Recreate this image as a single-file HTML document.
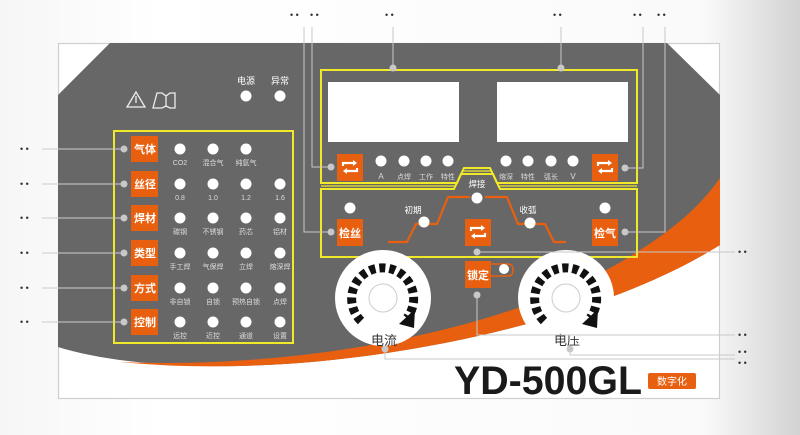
<!DOCTYPE html>
<html><head><meta charset="utf-8"><style>
html,body{margin:0;padding:0;width:800px;height:435px;overflow:hidden;background:#fff}
svg{display:block}
text{font-family:"Liberation Sans","Noto Sans CJK SC",sans-serif}
</style></head><body>
<svg width="800" height="435" viewBox="0 0 800 435" xmlns="http://www.w3.org/2000/svg">
<defs>
<linearGradient id="bg" x1="0" y1="0" x2="1" y2="0">
<stop offset="0" stop-color="#f6f6f6"/><stop offset="0.2" stop-color="#fff"/><stop offset="0.88" stop-color="#fafafa"/><stop offset="1" stop-color="#d2d2d2"/>
</linearGradient>
<g id="cyc"><path d="M-7,-1 v-3 h11" fill="none" stroke="#fff" stroke-width="2.2"/><path d="M3,-7 l4,3 l-4,3z" fill="#fff"/><path d="M7,1 v3 h-11" fill="none" stroke="#fff" stroke-width="2.2"/><path d="M-3,7 l-4,-3 l4,-3z" fill="#fff"/></g>
</defs>
<rect width="800" height="435" fill="url(#bg)"/>
<!-- panel -->
<rect x="58.5" y="43.5" width="661" height="355" fill="#fff" stroke="#cfcfcf" stroke-width="1.2"/>
<path d="M110,43 L667,43 L720,95 L720,245 C600,320 400,362 240,366 C160,367 100,360 58,347 L58,95 Z" fill="#676767"/>
<path d="M720,178 L720,245 C600,320 400,362 240,366 C200,367 160,366 120,362 C300,370 520,330 640,250 C680,225 705,200 720,178 Z" fill="#e8600f"/>
<!-- warning icons -->
<path d="M136,92 L127,107 L145,107 Z M136,96 L136,103" fill="none" stroke="#eee" stroke-width="1.3"/>
<path d="M157,93 h5 l4,3 l4,-3 h5 v15 h-5 l-4,-2 l-4,2 h-9z M166,96 v10" fill="none" stroke="#eee" stroke-width="1.3"/>
<g fill="#fff" font-size="9" text-anchor="middle"><text x="246" y="84">电源</text><text x="280" y="84">异常</text></g>
<circle cx="246" cy="96" r="5.5" fill="#fff"/><circle cx="280" cy="96" r="5.5" fill="#fff"/>
<!-- left box -->
<rect x="114" y="131" width="179" height="212" fill="none" stroke="#efe92a" stroke-width="2"/>
<g font-size="11" fill="#fff" text-anchor="middle" font-weight="bold">
<rect x="131" y="136" width="27" height="26" fill="#e8600f"/><text x="145" y="153">气体</text>
<rect x="131" y="171" width="27" height="26" fill="#e8600f"/><text x="145" y="188">丝径</text>
<rect x="131" y="205" width="27" height="26" fill="#e8600f"/><text x="145" y="222">焊材</text>
<rect x="131" y="240" width="27" height="26" fill="#e8600f"/><text x="145" y="257">类型</text>
<rect x="131" y="275" width="27" height="26" fill="#e8600f"/><text x="145" y="292">方式</text>
<rect x="131" y="309" width="27" height="26" fill="#e8600f"/><text x="145" y="326">控制</text>
</g>
<g fill="#fff">
<circle cx="180" cy="149" r="5.5"/><circle cx="213" cy="149" r="5.5"/><circle cx="246" cy="149" r="5.5"/>
<circle cx="180" cy="184" r="5.5"/><circle cx="213" cy="184" r="5.5"/><circle cx="246" cy="184" r="5.5"/><circle cx="280" cy="184" r="5.5"/>
<circle cx="180" cy="218" r="5.5"/><circle cx="213" cy="218" r="5.5"/><circle cx="246" cy="218" r="5.5"/><circle cx="280" cy="218" r="5.5"/>
<circle cx="180" cy="253" r="5.5"/><circle cx="213" cy="253" r="5.5"/><circle cx="246" cy="253" r="5.5"/><circle cx="280" cy="253" r="5.5"/>
<circle cx="180" cy="288" r="5.5"/><circle cx="213" cy="288" r="5.5"/><circle cx="246" cy="288" r="5.5"/><circle cx="280" cy="288" r="5.5"/>
<circle cx="180" cy="322" r="5.5"/><circle cx="213" cy="322" r="5.5"/><circle cx="246" cy="322" r="5.5"/><circle cx="280" cy="322" r="5.5"/>
</g>
<g fill="#ddd" font-size="7" text-anchor="middle">
<text x="180" y="165">CO2</text><text x="213" y="165">混合气</text><text x="246" y="165">纯氩气</text>
<text x="180" y="200">0.8</text><text x="213" y="200">1.0</text><text x="246" y="200">1.2</text><text x="280" y="200">1.6</text>
<text x="180" y="234">碳钢</text><text x="213" y="234">不锈钢</text><text x="246" y="234">药芯</text><text x="280" y="234">铝材</text>
<text x="180" y="269">手工焊</text><text x="213" y="269">气保焊</text><text x="246" y="269">立焊</text><text x="280" y="269">熔深焊</text>
<text x="180" y="304">非自锁</text><text x="213" y="304">自锁</text><text x="246" y="304">预热自锁</text><text x="280" y="304">点焊</text>
<text x="180" y="338">远控</text><text x="213" y="338">近控</text><text x="246" y="338">通道</text><text x="280" y="338">设置</text>
</g>
<!-- left callouts -->
<g stroke="#ccc" stroke-width="1"><line x1="42" y1="149" x2="124" y2="149"/><line x1="42" y1="184" x2="124" y2="184"/><line x1="42" y1="218" x2="124" y2="218"/><line x1="42" y1="253" x2="124" y2="253"/><line x1="42" y1="288" x2="124" y2="288"/><line x1="42" y1="322" x2="124" y2="322"/></g>
<g fill="#c8c8c8"><circle cx="124" cy="149" r="3.5"/><circle cx="124" cy="184" r="3.5"/><circle cx="124" cy="218" r="3.5"/><circle cx="124" cy="253" r="3.5"/><circle cx="124" cy="288" r="3.5"/><circle cx="124" cy="322" r="3.5"/></g>
<g fill="#333" font-size="9"><text x="20" y="152">• •</text><text x="20" y="187">• •</text><text x="20" y="221">• •</text><text x="20" y="256">• •</text><text x="20" y="291">• •</text><text x="20" y="325">• •</text></g>
<!-- top right box -->
<path d="M321,70 H637 V183 H497 L490,168 H464 L457,183 H321 Z" fill="none" stroke="#efe92a" stroke-width="2"/>
<path d="M321,257 H637 V189 H500 L493,174 H461 L454,189 H321 Z" fill="none" stroke="#efe92a" stroke-width="2"/>
<path d="M321,186 H455.5 L462.5,171 H491.5 L498.5,186 H637" fill="none" stroke="#efe92a" stroke-width="1.2"/>
<rect x="328" y="82" width="131" height="60" fill="#fff"/>
<rect x="497" y="82" width="131" height="60" fill="#fff"/>
<rect x="337" y="154" width="26" height="27" fill="#e8600f"/><use href="#cyc" x="350" y="167"/>
<rect x="592" y="154" width="26" height="27" fill="#e8600f"/><use href="#cyc" x="605" y="167"/>
<g fill="#fff"><circle cx="381" cy="161" r="5.5"/><circle cx="404" cy="161" r="5.5"/><circle cx="426" cy="161" r="5.5"/><circle cx="448" cy="161" r="5.5"/><circle cx="506" cy="161" r="5.5"/><circle cx="528" cy="161" r="5.5"/><circle cx="551" cy="161" r="5.5"/><circle cx="573" cy="161" r="5.5"/></g>
<g fill="#ddd" font-size="7" text-anchor="middle"><text x="381" y="179" font-size="8">A</text><text x="404" y="179">点焊</text><text x="426" y="179">工作</text><text x="448" y="179">特性</text><text x="506" y="179">熔深</text><text x="528" y="179">特性</text><text x="551" y="179">弧长</text><text x="573" y="179" font-size="8">V</text></g>
<!-- lower box -->
<path d="M388,242 H407 L416,224 H437 L448,197 H470 M485,197 H507 L518,224 H545 L554,242 H566" fill="none" stroke="#e8600f" stroke-width="2.2"/>
<g fill="#fff"><circle cx="477" cy="198" r="5.5"/><circle cx="424" cy="222" r="5.5"/><circle cx="530" cy="223" r="5.5"/><circle cx="350" cy="208" r="5.5"/><circle cx="605" cy="208" r="5.5"/></g>
<g fill="#fff" font-size="8.5" text-anchor="middle"><text x="477" y="187">焊接</text><text x="413" y="213">初期</text><text x="528" y="213">收弧</text></g>
<rect x="337" y="219" width="26" height="27" fill="#e8600f"/><text x="350" y="237" fill="#fff" font-size="11" font-weight="bold" text-anchor="middle">检丝</text>
<rect x="592" y="219" width="26" height="27" fill="#e8600f"/><text x="605" y="237" fill="#fff" font-size="11" font-weight="bold" text-anchor="middle">检气</text>
<rect x="465" y="219" width="26" height="27" fill="#e8600f"/><use href="#cyc" x="478" y="232"/>
<rect x="465" y="261" width="26" height="27" fill="#e8600f"/><text x="478" y="279" fill="#fff" font-size="11" font-weight="bold" text-anchor="middle">锁定</text>
<path d="M491,264 H508 Q513,264 513,270 Q513,276 508,276 H491" fill="none" stroke="#e8600f" stroke-width="1.5"/>
<circle cx="504" cy="269" r="5" fill="#fff"/>
<!-- dials -->
<g>
<circle cx="383" cy="298" r="48" fill="#fff"/><circle cx="383" cy="298" r="14" fill="none" stroke="#ccc" stroke-width="1"/>
<path d="M361,321 A31,31 0 1 1 407,318" fill="none" stroke="#111" stroke-width="9" stroke-dasharray="6 4"/>
<path d="M399,324 L415,309 L414,328 Z" fill="#111"/>
<text x="384" y="345" font-size="13" fill="#333" text-anchor="middle">电流</text>
<circle cx="566" cy="298" r="48" fill="#fff"/><circle cx="566" cy="298" r="14" fill="none" stroke="#ccc" stroke-width="1"/>
<path d="M544,321 A31,31 0 1 1 590,318" fill="none" stroke="#111" stroke-width="9" stroke-dasharray="6 4"/>
<path d="M582,324 L598,309 L597,328 Z" fill="#111"/>
<text x="567" y="345" font-size="13" fill="#333" text-anchor="middle">电压</text>
</g>
<!-- title -->
<text x="454" y="394" font-size="40" font-weight="bold" fill="#1a1a1a" textLength="188" lengthAdjust="spacingAndGlyphs">YD-500GL</text>
<rect x="648" y="373" width="48" height="16" rx="2" fill="#e8600f"/>
<text x="672" y="385" font-size="10" fill="#fff" text-anchor="middle">数字化</text>
<!-- callout lines -->
<g stroke="#c8c8c8" stroke-width="1" fill="none">
<path d="M304,27 V232 H331"/><path d="M312,27 V167 H331"/>
<path d="M393,27 V68"/><path d="M561,27 V68"/>
<path d="M643,27 V168 H625"/><path d="M665,27 V232 H625"/>
<path d="M477,252 H735"/><path d="M477,295 V335 H735"/>
<path d="M570,350 V355 H735"/><path d="M385,350 V359 H735"/>
</g>
<g fill="#c8c8c8"><circle cx="331" cy="232" r="3.5"/><circle cx="331" cy="167" r="3.5"/><circle cx="393" cy="68" r="3.5"/><circle cx="561" cy="68" r="3.5"/><circle cx="625" cy="168" r="3.5"/><circle cx="625" cy="232" r="3.5"/><circle cx="477" cy="252" r="3.5"/><circle cx="477" cy="295" r="3.5"/><circle cx="570" cy="349" r="3.5"/><circle cx="385" cy="349" r="3.5"/></g>
<g fill="#333" font-size="9"><text x="290" y="18">• •</text><text x="310" y="18">• •</text><text x="385" y="18">• •</text><text x="553" y="18">• •</text><text x="633" y="18">• •</text><text x="657" y="18">• •</text>
<text x="738" y="255">• •</text><text x="738" y="338">• •</text><text x="738" y="355">• •</text><text x="738" y="366">• •</text></g>
</svg>
</body></html>
